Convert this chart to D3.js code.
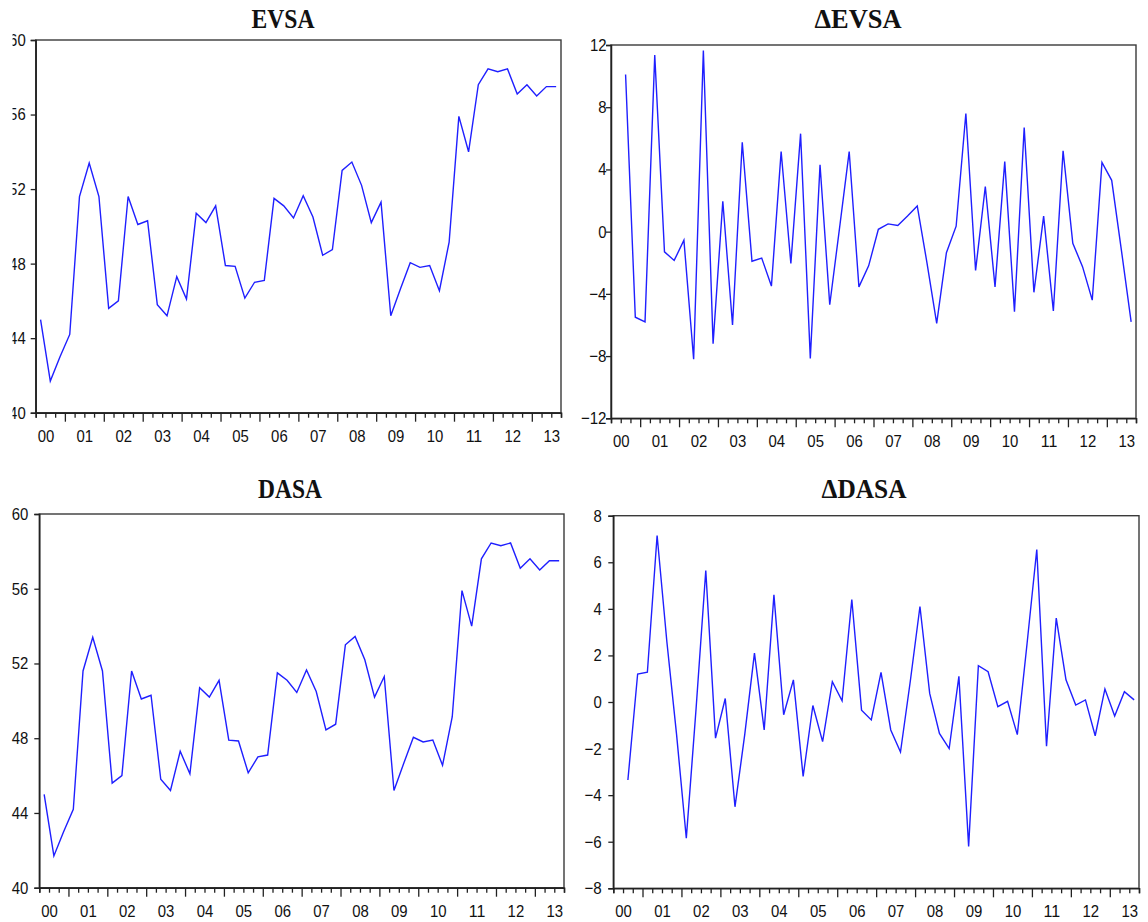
<!DOCTYPE html>
<html>
<head>
<meta charset="utf-8">
<script src="https://cdn.jsdelivr.net/npm/d3@7"></script>
<style>
  html, body { margin: 0; padding: 0; background: #fff; }
  svg { display: block; }
</style>
</head>
<body>
<svg id="chart" width="1148" height="922"></svg>
<script>
// ---- data (quarterly, axis 2000Q2 .. 2013Q3) ----
const yearLabels = ["00","01","02","03","04","05","06","07","08","09","10","11","12","13"];

// levels start 2000Q2 (54 obs)
const evsa = [45.0, 41.7, 43.0, 44.2, 51.6, 53.4, 51.6, 45.6, 46.0, 51.6,
              50.1, 50.3, 45.8, 45.2, 47.3, 46.1, 50.7, 50.2, 51.1, 47.9,
              47.85, 46.15, 47.0, 47.1, 51.5, 51.1, 50.45, 51.65, 50.5, 48.45,
              48.75, 53.0, 53.45, 52.2, 50.2, 51.3, 45.2, 46.65, 48.05, 47.8,
              47.9, 46.55, 49.15, 55.9, 54.0, 57.6, 58.45, 58.3, 58.45, 57.1,
              57.6, 57.0, 57.5, 57.5];
const dasa = [45.0, 41.7, 43.0, 44.2, 51.6, 53.4, 51.6, 45.6, 46.0, 51.6,
              50.1, 50.3, 45.8, 45.2, 47.3, 46.1, 50.7, 50.2, 51.1, 47.9,
              47.85, 46.15, 47.0, 47.1, 51.5, 51.1, 50.45, 51.65, 50.5, 48.45,
              48.75, 53.0, 53.45, 52.2, 50.2, 51.3, 45.2, 46.65, 48.05, 47.8,
              47.9, 46.55, 49.15, 55.9, 54.0, 57.6, 58.45, 58.3, 58.45, 57.1,
              57.6, 57.0, 57.5, 57.5];
// differences start 2000Q3 (53 obs)
const dEvsa = [10.1, -5.5, -5.8, 11.35, -1.3, -1.85, -0.55, -8.2, 11.65, -7.2,
               1.95, -6.0, 5.75, -1.9, -1.7, -3.5, 5.15, -2.05, 6.3, -8.15,
               4.3, -4.7, 0.2, 5.15, -3.55, -2.2, 0.15, 0.5, 0.4, 1.0,
               1.65, -2.0, -5.9, -1.35, 0.35, 7.6, -2.5, 2.9, -3.55, 4.5,
               -5.15, 6.7, -3.9, 1.0, -5.1, 5.2, -0.75, -2.25, -4.4, 4.45,
               3.3, -1.2, -5.8];
const dDasa = [-3.35, 1.2, 1.28, 7.15, 2.6, -1.4, -5.85, -0.3, 5.65, -1.55,
               0.15, -4.5, -1.4, 2.1, -1.2, 4.6, -0.55, 0.95, -3.2, -0.15,
               -1.7, 0.87, 0.05, 4.4, -0.35, -0.77, 1.27, -1.2, -2.15, 0.87,
               4.1, 0.37, -1.35, -2.0, 1.1, -6.2, 1.56, 1.3, -0.2, 0.03,
               -1.4, 2.5, 6.55, -1.9, 3.6, 0.95, -0.13, 0.09, -1.45, 0.56,
               -0.6, 0.44, 0.09];

const levelTicks = [40, 44, 48, 52, 56, 60];
const dEvsaTicks = [-12, -8, -4, 0, 4, 8, 12];
const dDasaTicks = [-8, -6, -4, -2, 0, 2, 4, 6, 8];

// ---- layout ----
const svg = d3.select("#chart");
const panels = [
  { title: "EVSA",  data: evsa,  start: 1, domain: [40, 60],   ticks: levelTicks,
    box: { l: 35.7, r: 561,  t: 40,    b: 412.7 }, titleX: 283, titleY: 28, titleW: 63, lblGap: 10 },
  { title: "\u0394EVSA", data: dEvsa, start: 2, domain: [-12, 12], ticks: dEvsaTicks,
    box: { l: 611,  r: 1136, t: 45,    b: 418.3 }, titleX: 858, titleY: 28, titleW: 87, lblGap: 4.5 },
  { title: "DASA",  data: dasa,  start: 1, domain: [40, 60],   ticks: levelTicks,
    box: { l: 39.3, r: 564,  t: 514,   b: 887.7 }, titleX: 290, titleY: 498, titleW: 64, lblGap: 11 },
  { title: "\u0394DASA", data: dDasa, start: 2, domain: [-8, 8],   ticks: dDasaTicks,
    box: { l: 613.3, r: 1139, t: 515.7, b: 888.3 }, titleX: 864, titleY: 498, titleW: 85, lblGap: 11.5 }
];

const labelFont = "'Liberation Sans', Arial, sans-serif";
function labelWidth(s) {
  let w = 0;
  for (const c of s) w += (c === "-") ? 9 : 8.3;
  return w;
}

panels.forEach(p => {
  const b = p.box;
  const x = d3.scaleLinear().domain([1, 55]).range([b.l, b.r]);
  const y = d3.scaleLinear().domain(p.domain).range([b.b, b.t]);
  const g = svg.append("g");

  // title
  g.append("text")
    .attr("x", p.titleX).attr("y", p.titleY)
    .attr("text-anchor", "middle")
    .attr("font-family", "'Liberation Serif', 'Times New Roman', serif")
    .attr("font-weight", "bold")
    .attr("font-size", 27)
    .attr("textLength", p.titleW)
    .attr("lengthAdjust", "spacingAndGlyphs")
    .attr("fill", "#111")
    .text(p.title);

  // line
  const line = d3.line()
    .x((d, i) => x(p.start + i + 0.5))
    .y(d => y(d));
  g.append("path")
    .datum(p.data)
    .attr("fill", "none")
    .attr("stroke", "#1f1fff")
    .attr("stroke-width", 1.4)
    .attr("stroke-linejoin", "miter")
    .attr("d", line);

  // frame
  g.append("rect")
    .attr("x", b.l).attr("y", b.t)
    .attr("width", b.r - b.l).attr("height", b.b - b.t)
    .attr("fill", "none")
    .attr("stroke", "#3a3a3a")
    .attr("stroke-width", 1.4);

  // y axis
  const yAxis = d3.axisLeft(y).tickValues(p.ticks).tickSize(5)
    .tickPadding(p.lblGap - 5).tickFormat(d3.format("d"));
  const ya = g.append("g").attr("transform", `translate(${b.l},0)`).call(yAxis);
  ya.select(".domain").attr("stroke", "#222").attr("stroke-width", 1.5);
  ya.selectAll(".tick line").attr("stroke", "#222").attr("stroke-width", 1.3);
  ya.selectAll(".tick text")
    .attr("font-family", labelFont).attr("font-size", 17).attr("fill", "#111")
    .attr("textLength", d => labelWidth(String(d)))
    .attr("lengthAdjust", "spacingAndGlyphs");

  // x axis ticks (quarters; majors at year starts)
  const xTicks = d3.axisBottom(x).tickValues(d3.range(1, 56)).tickSize(5).tickFormat("");
  const xa = g.append("g").attr("transform", `translate(0,${b.b})`).call(xTicks);
  xa.select(".domain").attr("stroke", "#222").attr("stroke-width", 1.5);
  xa.selectAll(".tick line")
    .attr("stroke", "#222").attr("stroke-width", 1.3)
    .attr("y2", d => (d % 4 === 0 ? 9 : 5));

  // year labels centred in each year
  const xLabels = d3.axisBottom(x)
    .tickValues(yearLabels.map((s, i) => 4 * i + 2))
    .tickSize(0).tickPadding(0)
    .tickFormat((d, i) => yearLabels[i]);
  const xl = g.append("g").attr("transform", `translate(0,${b.b})`).call(xLabels);
  xl.select(".domain").remove();
  xl.selectAll(".tick text")
    .attr("dy", null).attr("y", 29)
    .attr("font-family", labelFont).attr("font-size", 17).attr("fill", "#111")
    .attr("textLength", (d, i) => labelWidth(yearLabels[i]))
    .attr("lengthAdjust", "spacingAndGlyphs");
});

// the reference's left edge is cropped through the top-left tick labels
svg.append("rect").attr("x", 0).attr("y", 30).attr("width", 12.5).attr("height", 395).attr("fill", "#fff");
</script>
</body>
</html>
